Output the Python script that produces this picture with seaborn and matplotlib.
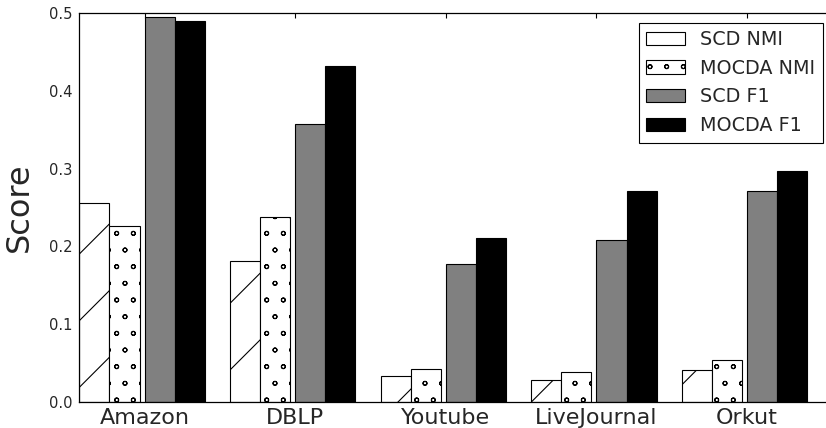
import numpy as np
import pandas as pd
import matplotlib
matplotlib.use("Agg")
import matplotlib.pyplot as plt
import matplotlib.hatch as mhatch
import seaborn as sns

datasets = ["Amazon", "DBLP", "Youtube", "LiveJournal", "Orkut"]
series = ["SCD NMI", "MOCDA NMI", "SCD F1", "MOCDA F1"]
scd_nmi = [0.256, 0.181, 0.033, 0.028, 0.041]
mocda_nmi = [0.226, 0.238, 0.042, 0.038, 0.054]
scd_f1 = [0.495, 0.357, 0.177, 0.208, 0.271]
mocda_f1 = [0.490, 0.432, 0.211, 0.271, 0.297]
yticks = [0.0, 0.1, 0.2, 0.3, 0.4, 0.5]

values = {"SCD NMI": scd_nmi, "MOCDA NMI": mocda_nmi,
          "SCD F1": scd_f1, "MOCDA F1": mocda_f1}
rows = []
for s in series:
    for d, v in zip(datasets, values[s]):
        rows.append({"dataset": d, "series": s, "score": v})
df = pd.DataFrame(rows)

sns.set_theme(style="white")
plt.rcParams["font.family"] = ["DejaVu Sans"]
plt.rcParams["hatch.linewidth"] = 0.4
plt.rcParams["axes.linewidth"] = 0.45
# smaller hollow circles for the dotted hatch
mhatch.SmallCircles.size = 0.12

DPI = 200
fig = plt.figure(figsize=(826 / DPI, 428 / DPI), dpi=DPI)
ax = fig.add_axes([79.3 / 826, 26 / 428, (832.4 - 79.3) / 826, 389 / 428])

palette = {"SCD NMI": "white", "MOCDA NMI": "white",
           "SCD F1": "#808080", "MOCDA F1": "black"}
sns.barplot(data=df, x="dataset", y="score", hue="series", hue_order=series,
            order=datasets, palette=palette, saturation=1, width=0.8,
            errorbar=None, edgecolor="black", linewidth=0.4, ax=ax,
            legend=False)

gap = 0.033
hatches = ["/", "oo", None, None]
for cont, h in zip(ax.containers, hatches):
    for p in cont.patches:
        if h is not None:
            p.set_x(p.get_x() - gap)
            p.set_hatch(h)
        p.set_edgecolor("black")
        p.set_linewidth(0.4)

ax.set_xlim(-0.4 - gap, -0.4 - gap + 5.0)
ax.set_ylim(0, 0.5)
ax.set_yticks(yticks)
ax.set_yticklabels([f"{t:.1f}" for t in yticks])
ax.set_xlabel("")
ax.set_ylabel("Score", fontsize=11.5, labelpad=5.0)
ax.tick_params(axis="both", direction="in", top=True, right=True,
               length=1.8, width=0.4, color="black")
ax.tick_params(axis="y", labelsize=5.3, pad=2.5)
ax.tick_params(axis="x", labelsize=8, pad=2.0)
for sp in ax.spines.values():
    sp.set_color("black")
    sp.set_linewidth(0.45)

leg = ax.legend(ax.containers, series, loc="upper right", fontsize=6.9,
                frameon=True, fancybox=False, framealpha=1,
                borderaxespad=0.5, handlelength=2.0, handleheight=0.7,
                labelspacing=0.5, borderpad=0.4)
leg.get_frame().set_edgecolor("black")
leg.get_frame().set_linewidth(0.4)

fig.savefig("out.png", dpi=DPI)
